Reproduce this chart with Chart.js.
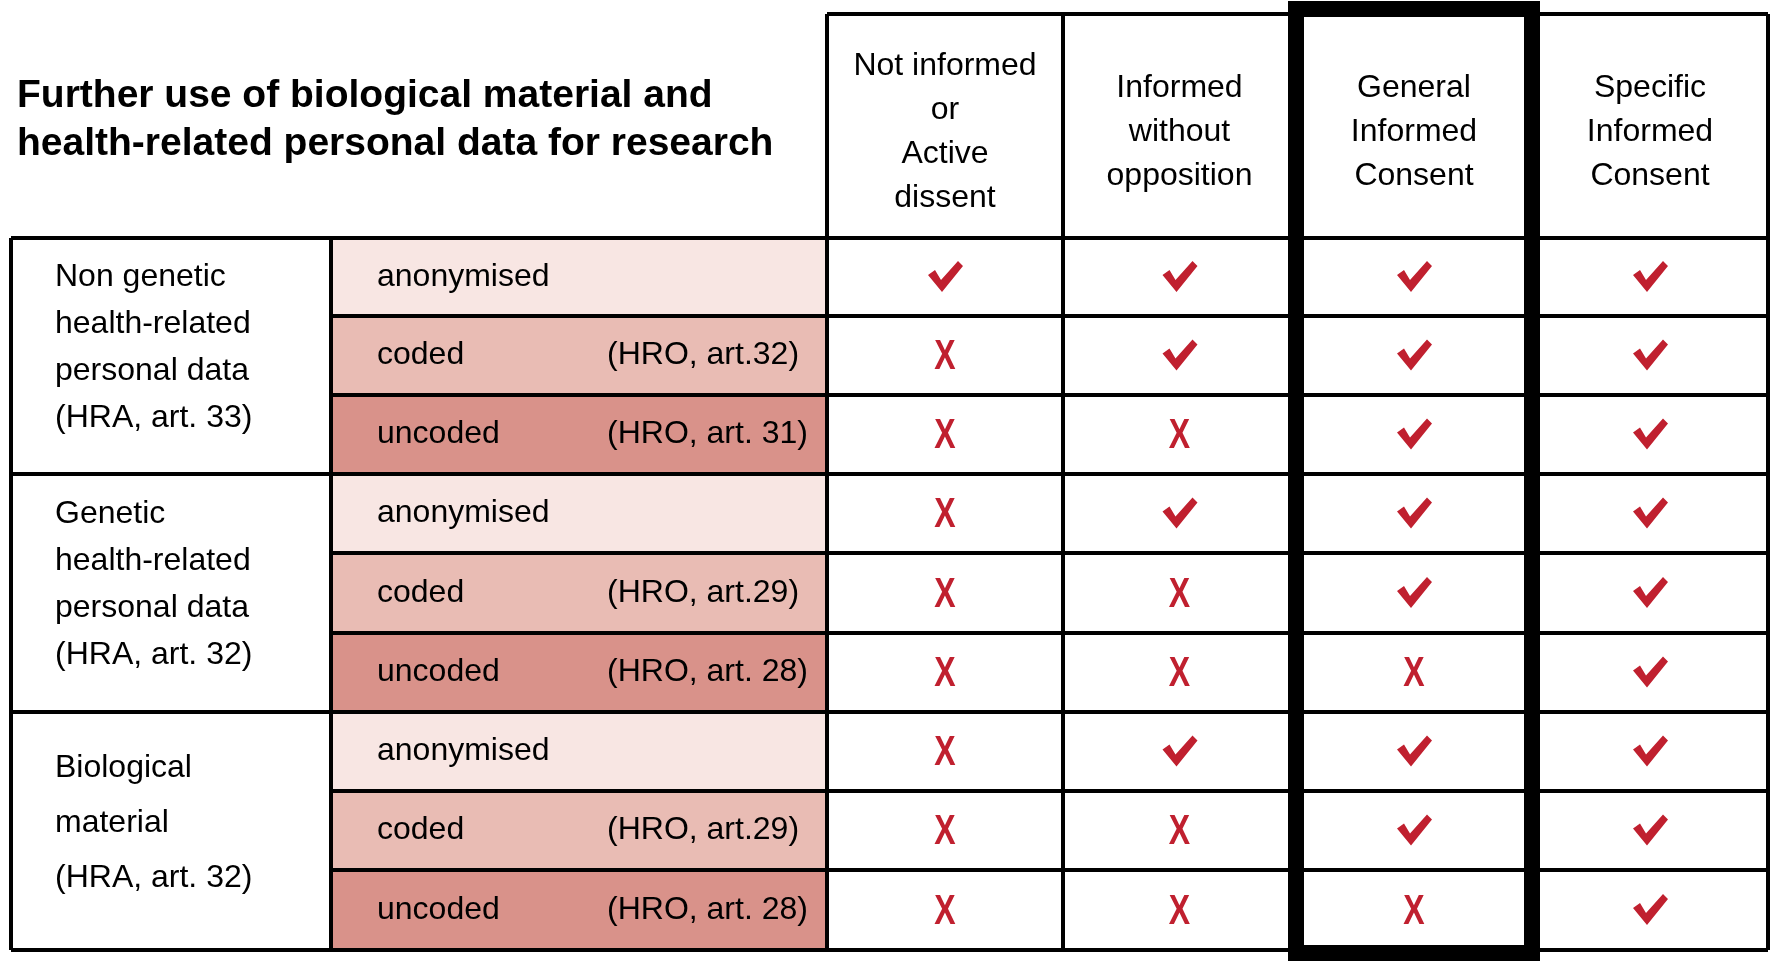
<!DOCTYPE html>
<html lang="en">
<head>
  <meta charset="UTF-8" />
  <title>Further use of biological material</title>
  <style>
    body { margin: 0; background: #fff; }
    canvas { display: block; }
  </style>
</head>
<body>
  <canvas id="c" width="1782" height="964"></canvas>
  <script src="https://cdn.jsdelivr.net/npm/chart.js"></script>
  <script>
    const title = ['Further use of biological material and', 'health-related personal data for research'];
    const consentColumns = [
      ['Not informed', 'or', 'Active', 'dissent'],
      ['Informed', 'without', 'opposition'],
      ['General', 'Informed', 'Consent'],
      ['Specific', 'Informed', 'Consent']
    ];
    const groups = [
      ['Non genetic', 'health-related', 'personal data', '(HRA, art. 33)'],
      ['Genetic', 'health-related', 'personal data', '(HRA, art. 32)'],
      ['Biological', 'material', '(HRA, art. 32)']
    ];
    const codingTypes = ['anonymised', 'coded', 'uncoded', 'anonymised', 'coded', 'uncoded', 'anonymised', 'coded', 'uncoded'];
    const articles = ['', '(HRO, art.32)', '(HRO, art. 31)', '', '(HRO, art.29)', '(HRO, art. 28)', '', '(HRO, art.29)', '(HRO, art. 28)'];
    // 1 = allowed (check), 0 = not allowed (cross), one array per consent column
    const notInformed = [1, 0, 0, 0, 0, 0, 0, 0, 0];
    const informedNoOpposition = [1, 1, 0, 1, 0, 0, 1, 0, 0];
    const generalConsent = [1, 1, 1, 1, 1, 0, 1, 1, 0];
    const specificConsent = [1, 1, 1, 1, 1, 1, 1, 1, 1];
    const allowed = [notInformed, informedNoOpposition, generalConsent, specificConsent];

    // layout (scale units = pixels)
    const colEdges = [11, 331, 827, 1063, 1296, 1532, 1768];
    const rowEdges = [14, 238, 316, 395, 474, 553, 633, 712, 791, 870, 950];
    const fills = { anonymised: '#f8e6e3', coded: '#e9bcb4', uncoded: '#d9928a' };
    const red = '#c0202f';
    const font = '"Liberation Sans", Arial, sans-serif';

    const checks = [], crosses = [];
    allowed.forEach((col, c) => col.forEach((v, r) => {
      const pt = { x: (colEdges[c + 2] + colEdges[c + 3]) / 2, y: (rowEdges[r + 1] + rowEdges[r + 2]) / 2 };
      (v ? checks : crosses).push(pt);
    }));

    const tablePlugin = {
      id: 'table',
      beforeDatasetsDraw(chart) {
        const ctx = chart.ctx, xs = chart.scales.x, ys = chart.scales.y;
        const X = v => xs.getPixelForValue(v), Y = v => ys.getPixelForValue(v);
        ctx.save();
        codingTypes.forEach((t, r) => {
          ctx.fillStyle = fills[t];
          ctx.fillRect(X(colEdges[1]), Y(rowEdges[r + 1]), X(colEdges[2]) - X(colEdges[1]), Y(rowEdges[r + 2]) - Y(rowEdges[r + 1]));
        });
        ctx.strokeStyle = '#000';
        ctx.lineWidth = 4;
        const line = (x1, y1, x2, y2) => { ctx.beginPath(); ctx.moveTo(X(x1), Y(y1)); ctx.lineTo(X(x2), Y(y2)); ctx.stroke(); };
        const bottom = rowEdges[rowEdges.length - 1];
        line(colEdges[2], rowEdges[0], colEdges[6], rowEdges[0]);
        for (let c = 2; c <= 6; c++) line(colEdges[c], rowEdges[0], colEdges[c], bottom);
        line(colEdges[0], rowEdges[1], colEdges[0], bottom);
        line(colEdges[1], rowEdges[1], colEdges[1], bottom);
        for (let r = 1; r < rowEdges.length; r++) {
          const left = (r - 1) % 3 === 0 ? colEdges[0] : colEdges[1];
          line(left, rowEdges[r], colEdges[6], rowEdges[r]);
        }
        ctx.lineWidth = 16;
        ctx.strokeRect(X(colEdges[4]), Y(rowEdges[0]) - 5, X(colEdges[5]) - X(colEdges[4]), Y(bottom) - Y(rowEdges[0]) + 8);

        ctx.fillStyle = '#000';
        ctx.textBaseline = 'middle';
        ctx.font = 'bold 39px ' + font;
        ctx.textAlign = 'left';
        ctx.fillText(title[0], X(17), Y(96));
        ctx.fillText(title[1], X(17), Y(144));
        ctx.font = '32px ' + font;
        ctx.textAlign = 'center';
        consentColumns.forEach((lines, c) => {
          const cx = X((colEdges[c + 2] + colEdges[c + 3]) / 2);
          const step = 44, mid = (rowEdges[0] + rowEdges[1]) / 2 + 6;
          lines.forEach((s, i) => ctx.fillText(s, cx, Y(mid + (i - (lines.length - 1) / 2) * step)));
        });
        ctx.textAlign = 'left';
        groups.forEach((lines, g) => {
          const top = rowEdges[1 + g * 3], bot = rowEdges[4 + g * 3];
          const step = lines.length === 4 ? 47 : 55, mid = (top + bot) / 2 - 8;
          lines.forEach((s, i) => ctx.fillText(s, X(55), Y(mid + (i - (lines.length - 1) / 2) * step)));
        });
        codingTypes.forEach((t, r) => {
          const cy = Y((rowEdges[r + 1] + rowEdges[r + 2]) / 2);
          ctx.fillText(t, X(377), cy);
          ctx.fillText(articles[r], X(607), cy);
        });
        ctx.restore();
      },
      afterDatasetsDraw(chart) {
        const ctx = chart.ctx;
        ctx.save();
        ctx.fillStyle = red;
        chart.getDatasetMeta(0).data.forEach(p => {
          ctx.beginPath();
          ctx.moveTo(p.x - 17, p.y - 2);
          ctx.lineTo(p.x - 10, p.y - 7);
          ctx.lineTo(p.x - 4, p.y + 3);
          ctx.lineTo(p.x + 13, p.y - 16);
          ctx.lineTo(p.x + 18, p.y - 11);
          ctx.lineTo(p.x - 3, p.y + 15);
          ctx.closePath();
          ctx.fill();
        });
        ctx.font = 'bold 32px ' + font;
        ctx.textAlign = 'center';
        ctx.textBaseline = 'middle';
        chart.getDatasetMeta(1).data.forEach(p => {
          ctx.save();
          ctx.translate(p.x, p.y + 2);
          ctx.scale(1, 1.35);
          ctx.fillText('X', 0, 0);
          ctx.restore();
        });
        ctx.restore();
      }
    };

    new Chart(document.getElementById('c'), {
      type: 'scatter',
      data: {
        datasets: [
          { label: 'allowed', data: checks, pointRadius: 0 },
          { label: 'not allowed', data: crosses, pointRadius: 0 }
        ]
      },
      options: {
        responsive: false,
        animation: false,
        devicePixelRatio: 1,
        layout: { padding: 0 },
        plugins: { legend: { display: false }, tooltip: { enabled: false } },
        scales: {
          x: { type: 'linear', min: 0, max: 1782, display: false },
          y: { type: 'linear', min: 0, max: 964, reverse: true, display: false }
        }
      },
      plugins: [tablePlugin]
    });
  </script>
</body>
</html>
